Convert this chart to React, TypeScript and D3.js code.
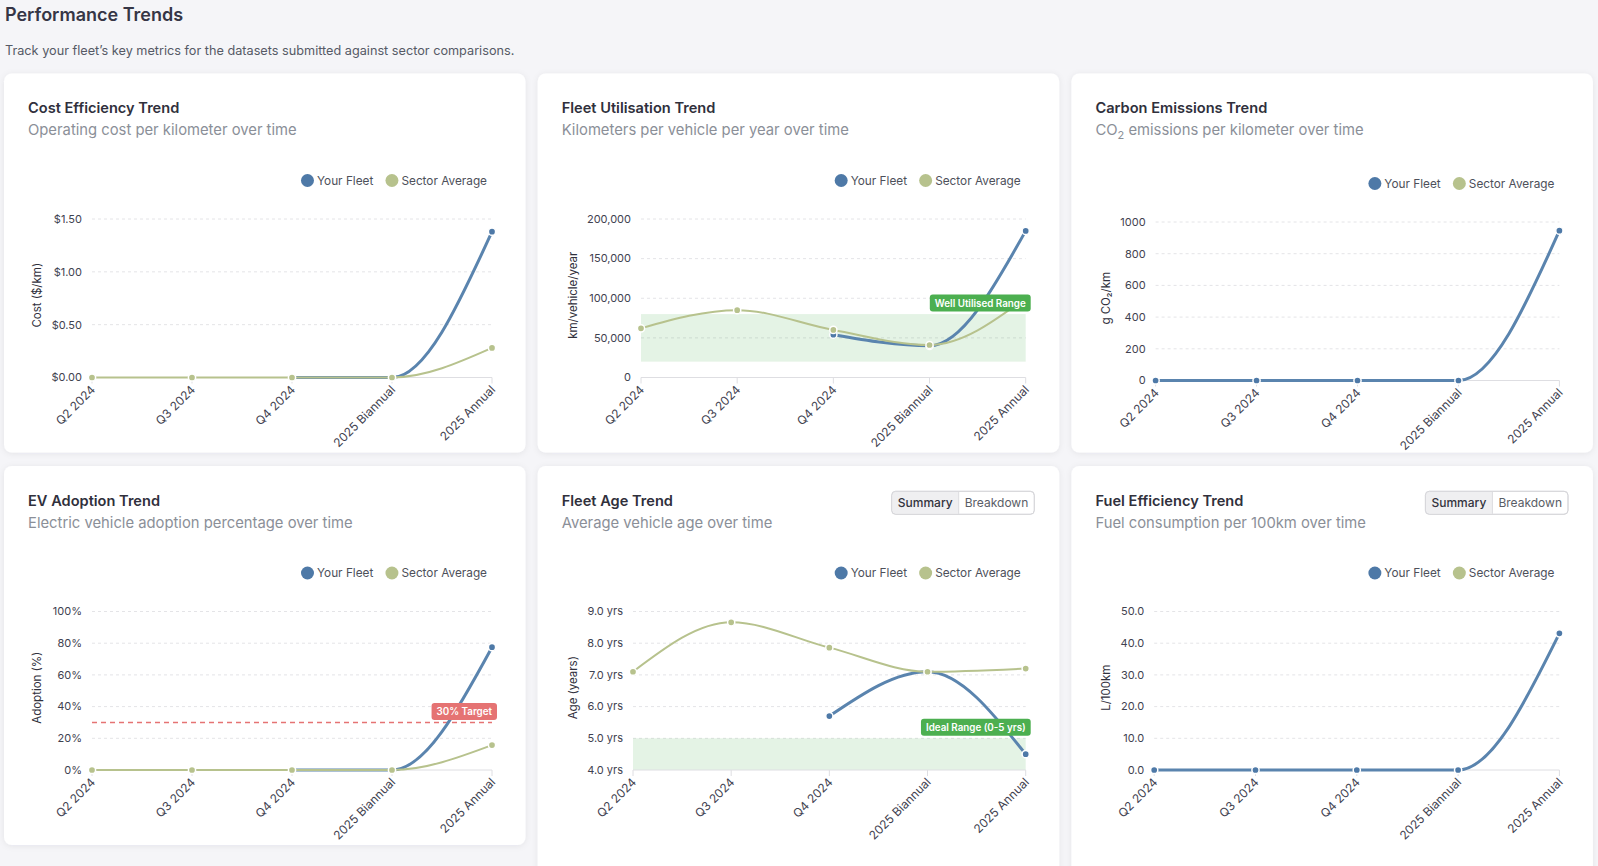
import { useEffect, useRef } from 'react';
import * as d3 from 'd3';

type Val = number | null;

const periods = ['Q2 2024', 'Q3 2024', 'Q4 2024', '2025 Biannual', '2025 Annual'];

const costFleet: Val[] = [null, null, 0, 0, 1.38];
const costSector: Val[] = [0, 0, 0, 0, 0.28];
const costTicks = [0, 0.5, 1, 1.5];

const utilFleet: Val[] = [null, null, 54000, 40000, 185000];
const utilSector: Val[] = [62000, 85000, 60000, 41000, 100000];
const utilTicks = [0, 50000, 100000, 150000, 200000];

const co2Fleet: Val[] = [0, 0, 0, 0, 945];
const co2Sector: Val[] = [null, null, null, null, null];
const co2Ticks = [0, 200, 400, 600, 800, 1000];

const evFleet: Val[] = [null, null, 0, 0, 77.5];
const evSector: Val[] = [0, 0, 0, 0, 15.7];
const evTicks = [0, 20, 40, 60, 80, 100];

const ageFleet: Val[] = [null, null, 5.7, 7.1, 4.5];
const ageSector: Val[] = [7.1, 8.66, 7.86, 7.1, 7.2];
const ageTicks = [4, 5, 6, 7, 8, 9];

const fuelFleet: Val[] = [0, 0, 0, 0, 43.1];
const fuelSector: Val[] = [null, null, null, null, null];
const fuelTicks = [0, 10, 20, 30, 40, 50];

const FLEET = '#5a84ae';
const FLEET_DOT = '#4e79a7';
const SECTOR = '#b7c28d';
const GOOD = '#4caf50';
const TARGET = '#e57373';
const FONT = 'Inter, "Noto Sans", sans-serif';

const CARD_W = 521.5;
const cardX = [4, 537.7, 1071.4];
const rowY = [73.5, 466];

interface Seg { t: string; sub?: boolean }

interface ChartDef {
  title: string;
  subtitle: Seg[];
  yLabel: string;
  fleet: Val[];
  sector: Val[];
  ticks: number[];
  fmt: (d: number) => string;
  col: number;
  row: number;
  height: number;
  plotLeft: number;
  yLabelX: number;
  shift?: number;
  toggle?: boolean;
  band?: { lo: number; hi: number; label: string };
  target?: { value: number; label: string };
}

const charts: ChartDef[] = [
  {
    title: 'Cost Efficiency Trend', subtitle: [{ t: 'Operating cost per kilometer over time' }],
    yLabel: 'Cost ($/km)', fleet: costFleet, sector: costSector, ticks: costTicks,
    fmt: d => `$${d.toFixed(2)}`, col: 0, row: 0, height: 379, plotLeft: 88, yLabelX: 33,
  },
  {
    title: 'Fleet Utilisation Trend', subtitle: [{ t: 'Kilometers per vehicle per year over time' }],
    yLabel: 'km/vehicle/year', fleet: utilFleet, sector: utilSector, ticks: utilTicks,
    fmt: d => d3.format(',')(d), col: 1, row: 0, height: 379, plotLeft: 103.3, yLabelX: 35,
    band: { lo: 20000, hi: 80000, label: 'Well Utilised Range' },
  },
  {
    title: 'Carbon Emissions Trend',
    subtitle: [{ t: 'CO' }, { t: '2', sub: true }, { t: ' emissions per kilometer over time' }],
    yLabel: 'g CO₂/km', fleet: co2Fleet, sector: co2Sector, ticks: co2Ticks,
    fmt: d => String(d), col: 2, row: 0, height: 379, plotLeft: 84.2, yLabelX: 34.6, shift: 3,
  },
  {
    title: 'EV Adoption Trend', subtitle: [{ t: 'Electric vehicle adoption percentage over time' }],
    yLabel: 'Adoption (%)', fleet: evFleet, sector: evSector, ticks: evTicks,
    fmt: d => `${d}%`, col: 0, row: 1, height: 379, plotLeft: 88, yLabelX: 33,
    target: { value: 30, label: '30% Target' },
  },
  {
    title: 'Fleet Age Trend', subtitle: [{ t: 'Average vehicle age over time' }],
    yLabel: 'Age (years)', fleet: ageFleet, sector: ageSector, ticks: ageTicks,
    fmt: d => `${d.toFixed(1)} yrs`, col: 1, row: 1, height: 412, plotLeft: 95.3, yLabelX: 35.5,
    toggle: true, band: { lo: 0, hi: 5, label: 'Ideal Range (0-5 yrs)' },
  },
  {
    title: 'Fuel Efficiency Trend', subtitle: [{ t: 'Fuel consumption per 100km over time' }],
    yLabel: 'L/100km', fleet: fuelFleet, sector: fuelSector, ticks: fuelTicks,
    fmt: d => d.toFixed(1), col: 2, row: 1, height: 412, plotLeft: 82.8, yLabelX: 34.8,
    toggle: true,
  },
];

type G = d3.Selection<SVGGElement, unknown, null, undefined>;

function drawCard(root: G, c: ChartDef) {
  const shift = c.shift ?? 0;
  const g = root.append('g')
    .attr('transform', `translate(${cardX[c.col]},${rowY[c.row]})`);

  g.append('rect')
    .attr('width', CARD_W).attr('height', c.height).attr('rx', 8)
    .attr('fill', '#fff').attr('filter', 'url(#cardShadow)');

  g.append('text')
    .attr('x', 24).attr('y', 39.5)
    .attr('font-size', 14.6).attr('font-weight', 600).attr('fill', '#30303c')
    .text(c.title);

  const sub = g.append('text')
    .attr('x', 24).attr('y', 61.5)
    .attr('font-size', 14.8).attr('fill', '#8b8f98');
  c.subtitle.forEach((s, i) => {
    const prevSub = i > 0 && c.subtitle[i - 1].sub;
    sub.append('tspan')
      .attr('dy', s.sub ? 4 : prevSub ? -4 : 0)
      .attr('font-size', s.sub ? 11 : 14.8)
      .text(s.t);
  });

  if (c.toggle) {
    const tg = g.append('g').attr('transform', 'translate(354,25.3)');
    const split = 67;
    tg.append('rect').attr('width', 142.6).attr('height', 23).attr('rx', 4)
      .attr('fill', '#fff').attr('stroke', '#dcdcdf');
    tg.append('path')
      .attr('d', `M4,0.5 H${split} V22.5 H4 A3.5,3.5 0 0 1 0.5,19 V4 A3.5,3.5 0 0 1 4,0.5 Z`)
      .attr('fill', '#efeff1');
    tg.append('line').attr('x1', split).attr('x2', split).attr('y1', 0.5).attr('y2', 22.5)
      .attr('stroke', '#dcdcdf');
    tg.append('rect').attr('width', 142.6).attr('height', 23).attr('rx', 4)
      .attr('fill', 'none').attr('stroke', '#d6d6da');
    tg.append('text').attr('x', split / 2).attr('y', 11.5).attr('dy', '0.35em')
      .attr('text-anchor', 'middle').attr('font-size', 12).attr('font-weight', 500)
      .attr('fill', '#33333d').text('Summary');
    tg.append('text').attr('x', (split + 142.6) / 2).attr('y', 11.5).attr('dy', '0.35em')
      .attr('text-anchor', 'middle').attr('font-size', 12)
      .attr('fill', '#5a5d66').text('Breakdown');
  }

  const plotRight = 488;
  const top = 145.5 + shift;
  const bottom = 304 + shift;

  const x = d3.scalePoint<string>().domain(periods).range([c.plotLeft, plotRight]);
  const y = d3.scaleLinear()
    .domain([c.ticks[0], c.ticks[c.ticks.length - 1]])
    .range([bottom, top]);

  // Legend, right aligned to the plot
  const legendY = 107 + shift;
  const lg = g.append('g').attr('font-size', 11.8).attr('fill', '#4d505a');
  const secText = lg.append('text')
    .attr('x', plotRight - 5).attr('y', legendY).attr('dy', '0.35em')
    .attr('text-anchor', 'end').text('Sector Average');
  const secW = (secText.node() as SVGTextElement).getComputedTextLength();
  const secDot = plotRight - 5 - secW - 9.5;
  lg.append('circle').attr('cx', secDot).attr('cy', legendY).attr('r', 6.5).attr('fill', SECTOR);
  const fleetText = lg.append('text')
    .attr('x', secDot - 18.6).attr('y', legendY).attr('dy', '0.35em')
    .attr('text-anchor', 'end').text('Your Fleet');
  const fleetW = (fleetText.node() as SVGTextElement).getComputedTextLength();
  lg.append('circle').attr('cx', secDot - 18.6 - fleetW - 9.5).attr('cy', legendY)
    .attr('r', 6.5).attr('fill', FLEET_DOT);

  // Grid
  g.append('g').selectAll('line')
    .data(c.ticks.slice(1))
    .join('line')
    .attr('x1', c.plotLeft).attr('x2', plotRight)
    .attr('y1', d => y(d)).attr('y2', d => y(d))
    .attr('stroke', '#e4e4e7').attr('stroke-dasharray', '3 3');

  // Reference band
  if (c.band) {
    const [d0, d1] = y.domain();
    const hi = Math.min(c.band.hi, d1);
    const lo = Math.max(c.band.lo, d0);
    g.append('rect')
      .attr('x', c.plotLeft).attr('width', plotRight - c.plotLeft)
      .attr('y', y(hi)).attr('height', y(lo) - y(hi))
      .attr('fill', GOOD).attr('fill-opacity', 0.15);
  }

  if (c.target) {
    g.append('line')
      .attr('x1', c.plotLeft).attr('x2', plotRight)
      .attr('y1', y(c.target.value)).attr('y2', y(c.target.value))
      .attr('stroke', TARGET).attr('stroke-width', 1.5).attr('stroke-dasharray', '5 4');
  }

  // Y axis ticks
  g.append('g').selectAll('text')
    .data(c.ticks)
    .join('text')
    .attr('x', c.plotLeft - 10).attr('y', d => y(d)).attr('dy', '0.35em')
    .attr('text-anchor', 'end').attr('font-size', 11).attr('fill', '#3f4250')
    .text(d => c.fmt(d));

  const mid = (top + bottom) / 2 - 3;
  g.append('text')
    .attr('transform', `translate(${c.yLabelX},${mid}) rotate(-90)`)
    .attr('text-anchor', 'middle').attr('dy', '0.35em')
    .attr('font-size', 11.5).attr('fill', '#30303c')
    .text(c.yLabel);

  // X axis
  g.append('line')
    .attr('x1', c.plotLeft).attr('x2', plotRight).attr('y1', bottom).attr('y2', bottom)
    .attr('stroke', '#dedee2');
  g.append('g').selectAll('line')
    .data(periods)
    .join('line')
    .attr('x1', d => x(d)!).attr('x2', d => x(d)!)
    .attr('y1', bottom).attr('y2', bottom + 6)
    .attr('stroke', '#dedee2');
  g.append('g').selectAll('text')
    .data(periods)
    .join('text')
    .attr('transform', d => `translate(${x(d)! - 2},${bottom + 7}) rotate(-45)`)
    .attr('dy', '0.71em')
    .attr('text-anchor', 'end').attr('font-size', 12).attr('fill', '#3f4250')
    .text(d => d);

  // Series
  const series = [
    { vals: c.fleet, color: FLEET, dot: FLEET_DOT, width: 3 },
    { vals: c.sector, color: SECTOR, dot: SECTOR, width: 2 },
  ];
  const line = d3.line<[string, Val]>()
    .defined(d => d[1] != null)
    .x(d => x(d[0])!)
    .y(d => y(d[1] as number))
    .curve(d3.curveMonotoneX);

  series.forEach(s => {
    const pts = periods.map((p, i) => [p, s.vals[i]] as [string, Val]);
    g.append('path')
      .attr('d', line(pts))
      .attr('fill', 'none').attr('stroke', s.color)
      .attr('stroke-width', s.width).attr('stroke-linecap', 'round');
    g.append('g').selectAll('circle')
      .data(pts.filter(d => d[1] != null))
      .join('circle')
      .attr('cx', d => x(d[0])!).attr('cy', d => y(d[1] as number))
      .attr('r', 3.6).attr('fill', s.dot)
      .attr('stroke', '#fff').attr('stroke-width', 1.5);
  });

  // Reference labels sit above the lines
  const refLabel = (text: string, yRef: number, fill: string) => {
    const lbl = g.append('g');
    const t = lbl.append('text')
      .attr('y', yRef - 2.5 - 8.5).attr('dy', '0.35em')
      .attr('text-anchor', 'middle').attr('font-size', 9.8).attr('font-weight', 600)
      .attr('fill', '#fff').text(text);
    const w = (t.node() as SVGTextElement).getComputedTextLength() + 10;
    const right = plotRight + 5;
    t.attr('x', right - w / 2);
    lbl.insert('rect', 'text')
      .attr('x', right - w).attr('y', yRef - 2.5 - 17)
      .attr('width', w).attr('height', 17).attr('rx', 3)
      .attr('fill', fill);
  };
  if (c.band) refLabel(c.band.label, y(Math.min(c.band.hi, y.domain()[1])), GOOD);
  if (c.target) refLabel(c.target.label, y(c.target.value), TARGET);
}

export default function App() {
  const ref = useRef<SVGSVGElement>(null);

  useEffect(() => {
    document.body.style.margin = '0';
    const svg = d3.select(ref.current!);
    svg.selectAll('*').remove();

    const defs = svg.append('defs');
    const f = defs.append('filter').attr('id', 'cardShadow')
      .attr('x', '-5%').attr('y', '-5%').attr('width', '110%').attr('height', '110%');
    f.append('feDropShadow').attr('dx', 0).attr('dy', 1).attr('stdDeviation', 3)
      .attr('flood-color', '#1e1e3c').attr('flood-opacity', 0.07);

    const root = svg.append('g') as unknown as G;

    root.append('text')
      .attr('x', 5).attr('y', 20.5)
      .attr('font-size', 18).attr('font-weight', 600).attr('fill', '#363646')
      .text('Performance Trends');
    root.append('text')
      .attr('x', 5).attr('y', 54.5)
      .attr('font-size', 12.7).attr('fill', '#565a66')
      .text('Track your fleet\u2019s key metrics for the datasets submitted against sector comparisons.');

    charts.forEach(c => drawCard(root, c));
  }, []);

  return (
    <svg
      ref={ref}
      width={1598}
      height={866}
      style={{ display: 'block', background: '#f5f5f8', fontFamily: FONT }}
    />
  );
}
